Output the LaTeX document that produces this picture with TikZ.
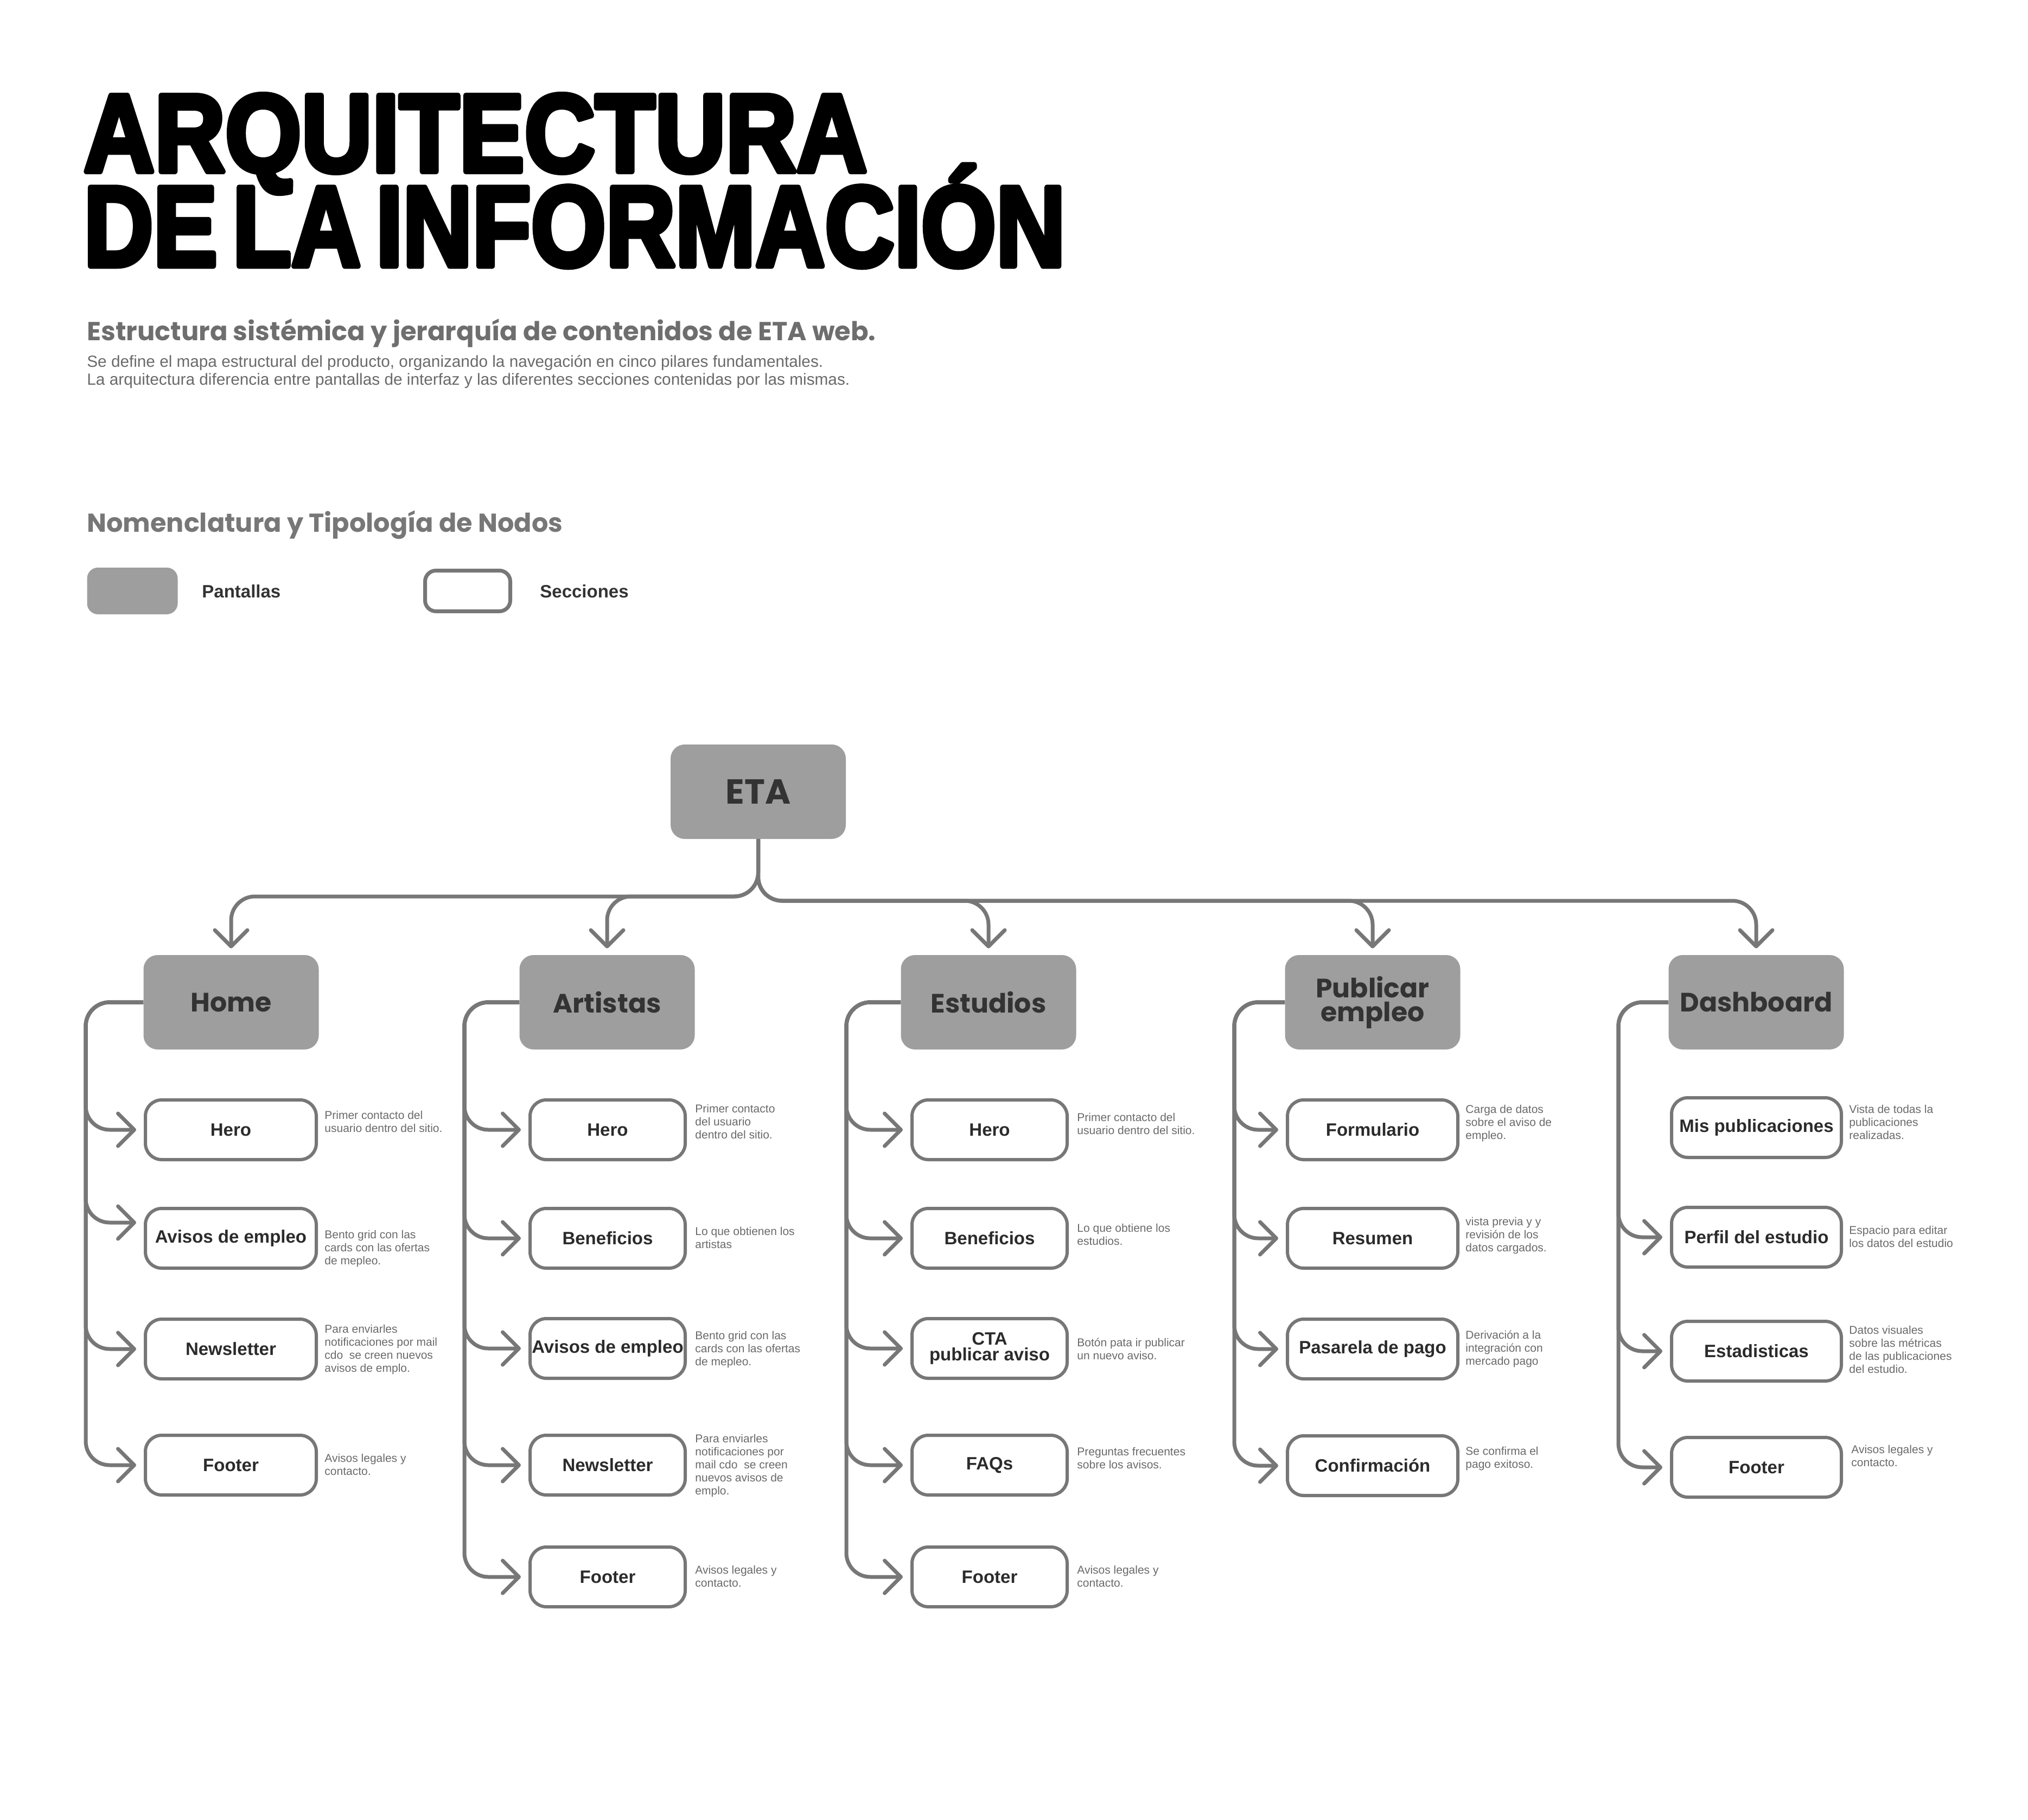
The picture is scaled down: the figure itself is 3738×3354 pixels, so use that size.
\documentclass[tikz,border=0pt]{standalone}
\usepackage{fontspec}
\setmainfont{Liberation Sans}
\newfontfamily\pop{Poppins}
\newfontfamily\titlefont{Liberation Sans Bold}[FakeBold=5]
\usetikzlibrary{arrows.meta,calc}
\definecolor{linec}{HTML}{777777}
\definecolor{scrfill}{HTML}{9E9E9E}
\definecolor{scrtext}{HTML}{333333}
\definecolor{sectext}{HTML}{2B2B2B}
\definecolor{desctext}{HTML}{6A6A6A}
\definecolor{subc}{HTML}{6E6E6E}
\definecolor{nomc}{HTML}{777777}
\begin{document}
\begin{tikzpicture}[x=0.5pt,y=-0.5pt,
  conn/.style={draw=linec, line width=3.5pt, rounded corners=22pt},
  arr/.style={-{Straight Barb[length=15pt,width=30pt,round]}, shorten >=7pt},
  darr/.style={-{Straight Barb[length=15pt,width=30pt,round]}, shorten >=6pt},
  scr/.style={fill=scrfill, rounded corners=13pt, minimum width=161.5pt, minimum height=87pt, inner sep=0pt, text=scrtext, align=center, font=\pop\bfseries\fontsize{24.5}{22}\selectfont},
  sec/.style={draw=linec, line width=3pt, fill=white, rounded corners=15pt, minimum height=55pt, inner sep=0pt, text=sectext, align=center, font=\bfseries\fontsize{16.5}{14.5}\selectfont},
  desc/.style={anchor=north west, inner sep=0pt, align=left, text=desctext, font=\fontsize{10.5}{12}\selectfont},
  txt/.style={anchor=base west, inner sep=0pt},
  ttl/.style={anchor=base west, inner sep=0pt, line join=round, miter limit=1},
]
\fill[white] (0,0) rectangle (3738,3354);
\useasboundingbox (0,0) rectangle (3738,3354);

% ---------- header ----------
\node[ttl] (t1) at (154,316) {\resizebox{721.5pt}{71pt}{\titlefont ARQUITECTURA}};
\node[ttl] (t2) at (154,490) {\resizebox{904.5pt}{93pt}{\titlefont DE\kern-.12em\ LA\kern-.12em\ INFORMACIÓN}};
\node[txt, text=subc] (sub) at (160,628) {\resizebox{727pt}{!}{\pop\bfseries\fontsize{22}{24}\selectfont Estructura sistémica y jerarquía de contenidos de ETA web.}};
\node[txt, text=desctext] (p1) at (160,677) {\resizebox{678.5pt}{!}{\fontsize{13.5}{15}\selectfont Se define el mapa estructural del producto, organizando la navegación en cinco pilares fundamentales.}};
\node[txt, text=desctext] (p2) at (160,710) {\resizebox{703pt}{!}{\fontsize{13.5}{15}\selectfont La arquitectura diferencia entre pantallas de interfaz y las diferentes secciones contenidas por las mismas.}};
\node[txt, text=nomc] (nom) at (160,980) {\resizebox{438.5pt}{!}{\pop\bfseries\fontsize{22}{24}\selectfont Nomenclatura y Tipología de Nodos}};

% ---------- legend ----------
\node[fill=scrfill, rounded corners=10pt, minimum width=83.5pt, minimum height=43pt, inner sep=0pt] (legS) at (244,1089) {};
\node[anchor=west, inner sep=0pt, text=scrtext, font=\bfseries\fontsize{16.5}{18}\selectfont] (legSt) at (372,1090) {Pantallas};
\node[draw=linec, line width=3.5pt, fill=white, rounded corners=10pt, minimum width=78.5pt, minimum height=37.5pt, inner sep=0pt] (legC) at (862,1089) {};
\node[anchor=west, inner sep=0pt, text=scrtext, font=\bfseries\fontsize{16.5}{18}\selectfont] (legCt) at (995,1090) {Secciones};

% ---------- screens ----------
\node[scr, font=\pop\bfseries\fontsize{32}{32}\selectfont] (eta) at (1397.5,1459) {ETA};
\node[scr] (home) at (426,1847) {Home};
\node[scr] (art) at (1119,1847) {Artistas};
\node[scr] (est) at (1822,1847) {Estudios};
\node[scr] (pub) at (2530,1847) {Publicar\\empleo};
\node[scr] (dash) at (3237,1847) {Dashboard};

% ---------- sections: Home ----------
\node[sec, minimum width=157.5pt] (h1) at (425.5,2082) {Hero};
\node[sec, minimum width=157.5pt] (h2) at (425.5,2282) {Avisos de empleo};
\node[sec, minimum width=157.5pt] (h3) at (425.5,2486) {Newsletter};
\node[sec, minimum width=157.5pt] (h4) at (425.5,2700) {Footer};
\node[desc] (dh1) at (598,2047) {Primer contacto del\\usuario dentro del sitio.};
\node[desc] (dh2) at (598,2267) {Bento grid con las\\cards con las ofertas\\de mepleo.};
\node[desc] (dh3) at (598,2441) {Para enviarles\\notificaciones por mail\\cdo~ se creen nuevos\\avisos de emplo.};
\node[desc] (dh4) at (598,2679) {Avisos legales y\\contacto.};

% ---------- sections: Artistas ----------
\node[sec, minimum width=143pt] (a1) at (1120,2082) {Hero};
\node[sec, minimum width=143pt] (a2) at (1120,2282) {Beneficios};
\node[sec, minimum width=143pt] (a3) at (1120,2485) {Avisos de empleo};
\node[sec, minimum width=143pt] (a4) at (1120,2700) {Newsletter};
\node[sec, minimum width=143pt] (a5) at (1120,2906) {Footer};
\node[desc] (da1) at (1281,2035) {Primer contacto\\del usuario\\dentro del sitio.};
\node[desc] (da2) at (1281,2261) {Lo que obtienen los\\artistas};
\node[desc] (da3) at (1281,2453) {Bento grid con las\\cards con las ofertas\\de mepleo.};
\node[desc] (da4) at (1281,2643) {Para enviarles\\notificaciones por\\mail cdo~ se creen\\nuevos avisos de\\emplo.};
\node[desc] (da5) at (1281,2885) {Avisos legales y\\contacto.};

% ---------- sections: Estudios ----------
\node[sec, minimum width=143pt] (e1) at (1824,2082) {Hero};
\node[sec, minimum width=143pt] (e2) at (1824,2282) {Beneficios};
\node[sec, minimum width=143pt] (e3) at (1824,2485) {CTA\\publicar aviso};
\node[sec, minimum width=143pt] (e4) at (1824,2700) {FAQs};
\node[sec, minimum width=143pt] (e5) at (1824,2906) {Footer};
\node[desc] (de1) at (1985,2051) {Primer contacto del\\usuario dentro del sitio.};
\node[desc] (de2) at (1985,2255) {Lo que obtiene los\\estudios.};
\node[desc] (de3) at (1985,2466) {Botón pata ir publicar\\un nuevo aviso.};
\node[desc] (de4) at (1985,2667) {Preguntas frecuentes\\sobre los avisos.};
\node[desc] (de5) at (1985,2885) {Avisos legales y\\contacto.};

% ---------- sections: Publicar empleo ----------
\node[sec, minimum width=157pt] (u1) at (2530,2082) {Formulario};
\node[sec, minimum width=157pt] (u2) at (2530,2282) {Resumen};
\node[sec, minimum width=157pt] (u3) at (2530,2486) {Pasarela de pago};
\node[sec, minimum width=157pt] (u4) at (2530,2701) {Confirmación};
\node[desc] (du1) at (2701,2036) {Carga de datos\\sobre el aviso de\\empleo.};
\node[desc] (du2) at (2701,2243) {vista previa y y\\revisión de los\\datos cargados.};
\node[desc] (du3) at (2701,2452) {Derivación a la\\integración con\\mercado pago};
\node[desc] (du4) at (2701,2666) {Se confirma el\\pago exitoso.};

% ---------- sections: Dashboard ----------
\node[sec, minimum width=156.5pt] (b1) at (3237.5,2078) {Mis publicaciones};
\node[sec, minimum width=156.5pt] (b2) at (3237.5,2280) {Perfil del estudio};
\node[sec, minimum width=156.5pt] (b3) at (3237.5,2490) {Estadisticas};
\node[sec, minimum width=156.5pt] (b4) at (3237.5,2704) {Footer};
\node[desc] (db1) at (3408,2036) {Vista de todas la\\publicaciones\\realizadas.};
\node[desc] (db2) at (3408,2259) {Espacio para editar\\los datos del estudio};
\node[desc] (db3) at (3408,2443) {Datos visuales\\sobre las métricas\\de las publicaciones\\del estudio.};
\node[desc] (db4) at (3412,2663) {Avisos legales y\\contacto.};

% ---------- ETA connectors ----------
\draw[conn,darr] (eta.south) |- (home.north |- 0,1652) -- (home.north);
\draw[conn,darr] (eta.south) |- (art.north |- 0,1652) -- (art.north);
\draw[conn,darr] (eta.south) |- (est.north |- 0,1660) -- (est.north);
\draw[conn,darr] (eta.south) |- (pub.north |- 0,1660) -- (pub.north);
\draw[conn,darr] (eta.south) |- (dash.north |- 0,1660) -- (dash.north);

% ---------- trunks ----------
\coordinate (tH) at (158,0);
\coordinate (tA) at (856,0);
\coordinate (tE) at (1560,0);
\coordinate (tP) at (2275,0);
\coordinate (tD) at (2983,0);
\coordinate (h2a) at ($(h2.west)+(0,-29)$);

\foreach \n in {h1,h3,h4}{\draw[conn,arr] (home.west) -| (tH |- \n.west) -- (\n.west);}
\draw[conn,arr] (home.west) -| (tH |- h2a) -- (h2a);
\foreach \n in {a1,a2,a3,a4,a5}{\draw[conn,arr] (art.west) -| (tA |- \n.west) -- (\n.west);}
\foreach \n in {e1,e2,e3,e4,e5}{\draw[conn,arr] (est.west) -| (tE |- \n.west) -- (\n.west);}
\foreach \n in {u1,u2,u3,u4}{\draw[conn,arr] (pub.west) -| (tP |- \n.west) -- (\n.west);}
\foreach \n in {b2,b3,b4}{\draw[conn,arr] (dash.west) -| (tD |- \n.west) -- (\n.west);}
\end{tikzpicture}
\end{document}
